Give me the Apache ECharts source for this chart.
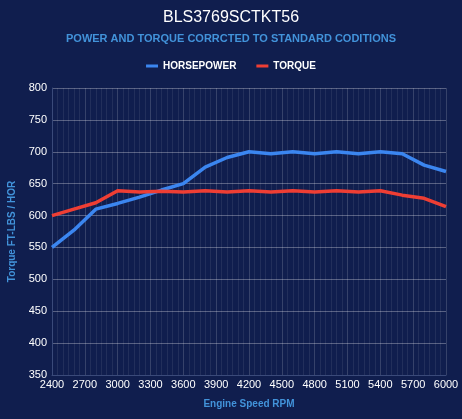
<!DOCTYPE html>
<html><head><meta charset="utf-8">
<script src="https://cdn.jsdelivr.net/npm/echarts@6/dist/echarts.min.js"></script>
<style>html,body{margin:0;padding:0;background:#101e4e;}#c{width:462px;height:419px;}</style>
</head><body><div id="c"></div>
<script>
const rpm = [2400,2600,2800,3000,3200,3400,3600,3800,4000,4200,4400,4600,4800,5000,5200,5400,5600,5800,6000];
const horsepower = [550,577,610,619,629,640,650,676,691,700,697,700,697,700,697,700,697,679,669];
const torque = [600,610,620,639,637,638,637,639,637,639,637,639,637,639,637,639,632,627,614];
const xTicks = {min:2400,max:6000,interval:300};
const yTicks = {min:350,max:800,interval:50};

const chart = echarts.init(document.getElementById('c'));
chart.setOption({
  backgroundColor:'#101e4e',
  title:{text:'BLS3769SCTKT56',subtext:'POWER AND TORQUE CORRCTED TO STANDARD CODITIONS',left:'center',top:5,itemGap:7,
    textStyle:{color:'#ffffff',fontSize:16,fontWeight:'normal',fontFamily:'Liberation Sans'},
    subtextStyle:{color:'#4293da',fontSize:11,fontWeight:'bold',fontFamily:'Liberation Sans'}},
  legend:{top:56,left:'center',itemWidth:12,itemHeight:3,itemGap:20,icon:'rect',
    textStyle:{color:'#ffffff',fontSize:10,fontWeight:'bold',fontFamily:'Liberation Sans'},
    data:['HORSEPOWER','TORQUE']},
  grid:{left:52,right:16,top:88,bottom:44,containLabel:false,outerBoundsMode:'none'},
  xAxis:{type:'value',min:xTicks.min,max:xTicks.max,interval:xTicks.interval,
    name:'Engine Speed RPM',nameLocation:'middle',nameGap:24,
    nameTextStyle:{color:'#4293da',fontSize:10,fontWeight:'bold',fontFamily:'Liberation Sans'},
    axisLine:{lineStyle:{color:'#3a4a7a'}},axisTick:{show:false},
    axisLabel:{color:'#ffffff',fontSize:11,margin:4,fontFamily:'Liberation Sans',formatter:v=>String(v)},
    splitLine:{show:true,lineStyle:{color:'rgba(255,255,255,0.16)',width:1}},
    minorTick:{show:false,splitNumber:6},
    minorSplitLine:{show:true,lineStyle:{color:'rgba(255,255,255,0.08)',width:1}}},
  yAxis:{type:'value',min:yTicks.min,max:yTicks.max,interval:yTicks.interval,
    name:'Torque FT-LBS / HOR',nameLocation:'middle',nameGap:35,
    nameTextStyle:{color:'#4293da',fontSize:10,fontWeight:'bold',fontFamily:'Liberation Sans'},
    axisLine:{show:true,lineStyle:{color:'#3a4a7a'}},axisTick:{show:false},
    axisLabel:{color:'#ffffff',fontSize:11,margin:5,fontFamily:'Liberation Sans',formatter:v=>String(v)},
    splitLine:{show:true,lineStyle:{color:'rgba(255,255,255,0.3)',width:1}}},
  series:[
    {name:'HORSEPOWER',type:'line',data:rpm.map((r,i)=>[r,horsepower[i]]),showSymbol:false,
      lineStyle:{color:'#3b86f0',width:3.5},itemStyle:{color:'#3b86f0'}},
    {name:'TORQUE',type:'line',data:rpm.map((r,i)=>[r,torque[i]]),showSymbol:false,
      lineStyle:{color:'#ee3e34',width:3.5},itemStyle:{color:'#ee3e34'}}
  ]
});
</script></body></html>
